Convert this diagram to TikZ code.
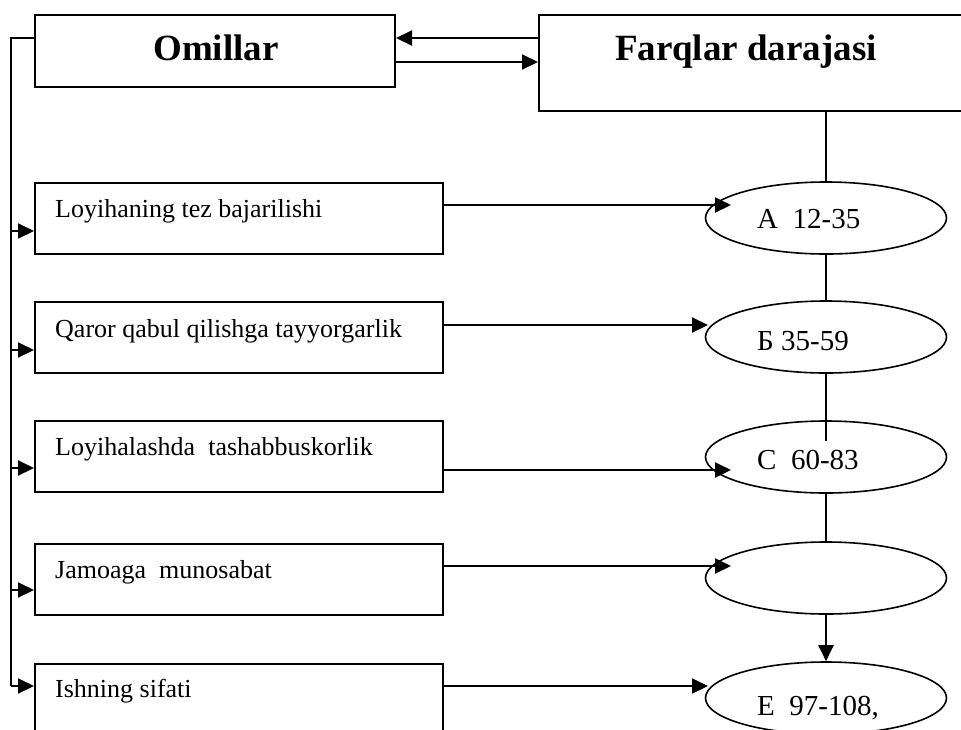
\documentclass[tikz,border=0pt]{standalone}
\usepackage{fontspec}
\setmainfont{Liberation Serif}
\usetikzlibrary{shapes.geometric,arrows.meta,calc}
\begin{document}
\begin{tikzpicture}[x=1pt,y=-1pt,
  topbox/.style={draw,line width=2pt,inner sep=0pt,anchor=north west},
  box/.style={draw,line width=2pt,minimum width=408pt,minimum height=71pt,inner sep=0pt,anchor=north west},
  oval/.style={draw,ellipse,line width=1.6pt,minimum width=241pt,minimum height=72pt,inner sep=0pt},
  title/.style={anchor=base,inner sep=0pt,font=\bfseries\fontsize{37}{40}\selectfont},
  lbl/.style={anchor=base west,inner sep=0pt,font=\fontsize{26}{30}\selectfont},
  olbl/.style={anchor=base west,inner sep=0pt,font=\fontsize{29}{33}\selectfont},
  arr/.style={line width=2pt,-{Triangle[length=16pt,width=15pt]}},
  thick line/.style={line width=2pt},
  thin line/.style={line width=1.3pt}]
\useasboundingbox (0,0) rectangle (961,729);
\clip (0,0) rectangle (961,729);

% top boxes
\node[topbox,minimum width=360pt,minimum height=72pt] (om) at (34,14) {};
\node[title] (omt) at (216,60) {Omillar};
\node[topbox,minimum width=432pt,minimum height=96pt] (fq) at (538,14) {};
\node[title] (fqt) at (746,60) {Farqlar darajasi};

\draw[arr] (fq.west |- 0,38) -- (om.east |- 0,38);
\draw[arr] (om.east |- 0,62) -- (fq.west |- 0,62);

% left boxes
\node[box] (b1) at (34,182) {};
\node[box] (b2) at (34,301) {};
\node[box] (b3) at (34,420) {};
\node[box] (b4) at (34,543) {};
\node[box,minimum height=90pt] (b5) at (34,663) {};

\node[lbl] (t1) at (55,217) {Loyihaning tez bajarilishi};
\node[lbl] (t2) at (55,337) {Qaror qabul qilishga tayyorgarlik};
\node[lbl] (t3) at (55,455) {Loyihalashda~~tashabbuskorlik};
\node[lbl] (t4) at (55,578) {Jamoaga~~munosabat};
\node[lbl] (t5) at (55,697) {Ishning sifati};

% left bus
\coordinate (c0) at (11,38);
\coordinate (j1) at (11,231);
\coordinate (j2) at (11,350);
\coordinate (j3) at (11,468);
\coordinate (j4) at (11,590);
\coordinate (j5) at (11,686);
\draw[thick line] (om.west |- c0) -- (c0) -- (j5);
\draw[arr] (j1) -- (b1.west |- j1);
\draw[arr] (j2) -- (b2.west |- j2);
\draw[arr] (j3) -- (b3.west |- j3);
\draw[arr] (j4) -- (b4.west |- j4);
\draw[arr] (j5) -- (b5.west |- j5);

% ellipses
\node[oval] (e1) at (826,218) {};
\node[oval] (e2) at (826,337) {};
\node[oval] (e3) at (826,457) {};
\node[oval] (e4) at (826,578) {};
\node[oval] (e5) at (826,698) {};

\node[olbl] (l1) at (757,228) {А~~12-35};
\node[olbl] (l2) at (757,350) {Б 35-59};
\node[olbl] (l3) at (757,469) {С~~60-83};
\node[olbl] (l5) at (757,715) {Е~~97-108,};

% right spine
\draw[thin line] (e1.north |- fq.south) -- (e1.north);
\draw[thin line] (e1.south) -- (e2.north);
\draw[thin line] (e2.south) -- ($(e3.north)+(0,21)$);
\draw[thin line] (e3.south) -- (e4.north);
\draw[arr] (e4.south) -- (e5.north);

% row connectors
\coordinate (r1) at (731,205);
\coordinate (r2) at (708,325);
\coordinate (r3) at (731,470);
\coordinate (r4) at (731,566);
\coordinate (r5) at (708,686);
\draw[arr] (b1.east |- r1) -- (r1);
\draw[arr] (b2.east |- r2) -- (r2);
\draw[arr] (b3.east |- r3) -- (r3);
\draw[arr] (b4.east |- r4) -- (r4);
\draw[arr] (b5.east |- r5) -- (r5);
\end{tikzpicture}
\end{document}
